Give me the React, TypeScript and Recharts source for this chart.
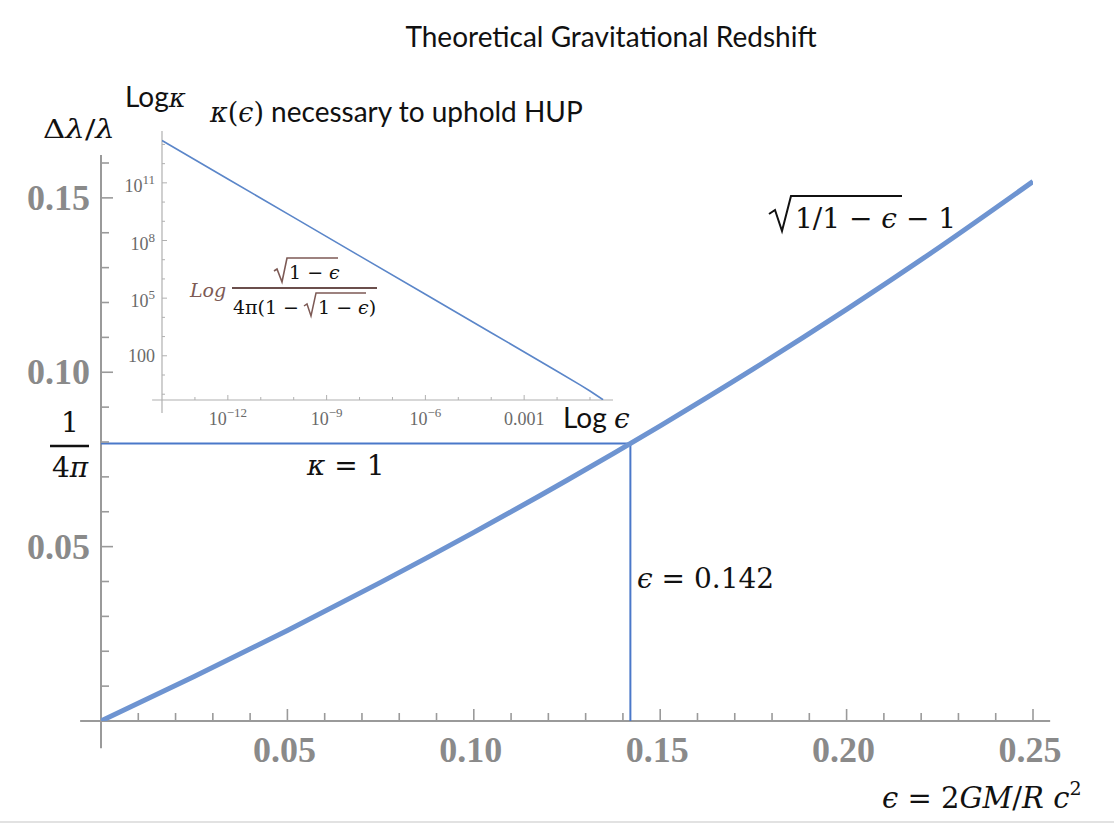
import React from 'react';
import { ComposedChart, LineChart, Line, XAxis, YAxis, ReferenceLine } from 'recharts';

// main curve: sqrt(1/(1-eps)) - 1
const EPSILON = [0, 0.025, 0.05, 0.075, 0.1, 0.125, 0.15, 0.175, 0.2, 0.225, 0.25];
const REDSHIFT = [0, 0.01274, 0.02598, 0.03975, 0.05409, 0.06904, 0.08465, 0.10096, 0.11803, 0.13592, 0.1547];

const MAIN_X_TICKS = [
  0.01, 0.02, 0.03, 0.04, 0.05, 0.06, 0.07, 0.08, 0.09, 0.1, 0.11, 0.12, 0.13,
  0.14, 0.15, 0.16, 0.17, 0.18, 0.19, 0.2, 0.21, 0.22, 0.23, 0.24, 0.25,
];
const MAIN_Y_TICKS = [
  0.01, 0.02, 0.03, 0.04, 0.05, 0.06, 0.07, 0.08, 0.09, 0.1, 0.11, 0.12, 0.13, 0.14, 0.15, 0.16,
];

// kappa = 1 crossing
const KAPPA_ONE_EPS = 0.142;
const KAPPA_ONE_SHIFT = 0.0796; // 1/4pi

// inset: log kappa vs log eps
const INSET_EPS = [1e-14, 1e-12, 1e-10, 1e-8, 1e-6, 1e-4, 1e-2, 0.05, 0.1, 0.25];
const INSET_KAPPA = [1.59e13, 1.59e11, 1.59e9, 1.59e7, 1.59e5, 1591, 15.8, 3.06, 1.47, 0.514];

const INSET_X_TICKS = [1e-13, 1e-12, 1e-11, 1e-10, 1e-9, 1e-8, 1e-7, 1e-6, 1e-5, 1e-4, 1e-3, 1e-2, 1e-1];
const INSET_Y_TICKS = [1, 10, 100, 1e3, 1e4, 1e5, 1e6, 1e7, 1e8, 1e9, 1e10, 1e11, 1e12, 1e13];
const INSET_X_LABELS: Record<number, [string, string]> = {
  [-12]: ['10', '\u221212'],
  [-9]: ['10', '\u22129'],
  [-6]: ['10', '\u22126'],
  [-3]: ['0.001', ''],
};
const INSET_Y_LABELS: Record<number, [string, string]> = {
  2: ['100', ''],
  5: ['10', '5'],
  8: ['10', '8'],
  11: ['10', '11'],
};

const mainData = EPSILON.map((e, i) => ({ eps: e, shift: REDSHIFT[i] }));
const insetData = INSET_EPS.map((e, i) => ({ eps: e, kappa: INSET_KAPPA[i] }));

const AXIS = '#9a9a9a';
const TICK_TEXT = '#8a8a8a';
const MATH = '"DejaVu Serif", serif';
const SANS = 'Lato, "Open Sans", sans-serif';

const isMajor = (v: number) => Math.abs(v / 0.05 - Math.round(v / 0.05)) < 1e-6;

const MainXTick = (props: any) => {
  const { x, y, payload } = props;
  const major = isMajor(payload.value);
  return (
    <g>
      <line x1={x} x2={x} y1={y} y2={y - (major ? 12 : 8)} stroke={AXIS} strokeWidth={1.6} />
      {major && (
        <text x={x - 3} y={y + 41} textAnchor="middle" fontFamily='"Liberation Serif", serif' fontWeight="bold" fontSize={36} fill={TICK_TEXT}>
          {payload.value.toFixed(2)}
        </text>
      )}
    </g>
  );
};

const MainYTick = (props: any) => {
  const { x, y, payload } = props;
  const major = isMajor(payload.value);
  return (
    <g>
      <line x1={x} x2={x + (major ? 12 : 8)} y1={y} y2={y} stroke={AXIS} strokeWidth={1.6} />
      {major && (
        <text x={x - 11} y={y + 12} textAnchor="end" fontFamily='"Liberation Serif", serif' fontWeight="bold" fontSize={36} fill={TICK_TEXT}>
          {payload.value.toFixed(2)}
        </text>
      )}
    </g>
  );
};

const InsetXTick = (props: any) => {
  const { x, y, payload } = props;
  const exp = Math.round(Math.log10(payload.value));
  const label = INSET_X_LABELS[exp];
  return (
    <g>
      <line x1={x} x2={x} y1={y} y2={y - (label ? 5 : 3)} stroke="#b0b0b0" strokeWidth={1} />
      {label && (
        <text x={x} y={y + 25} textAnchor="middle" fontFamily='"Liberation Serif", serif' fontSize={18} fill="#6a6a6a">
          {label[0]}
          {label[1] && (
            <tspan dy={-8} fontSize={13}>
              {label[1]}
            </tspan>
          )}
        </text>
      )}
    </g>
  );
};

const InsetYTick = (props: any) => {
  const { x, y, payload } = props;
  const exp = Math.round(Math.log10(payload.value));
  const label = INSET_Y_LABELS[exp];
  return (
    <g>
      <line x1={x} x2={x + (label ? 5 : 3)} y1={y} y2={y} stroke="#b0b0b0" strokeWidth={1} />
      {label && (
        <text x={x - 7} y={y + (label[1] ? 9 : 6)} textAnchor="end" fontFamily='"Liberation Serif", serif' fontSize={18} fill="#6a6a6a">
          {label[0]}
          {label[1] && (
            <tspan dy={-8} fontSize={13}>
              {label[1]}
            </tspan>
          )}
        </text>
      )}
    </g>
  );
};

function Annotations() {
  return (
    <svg width={1114} height={825} style={{ position: 'absolute', left: 0, top: 0, pointerEvents: 'none' }}>
      <text x={611} y={47} textAnchor="middle" fontFamily={SANS} fontSize={28} fill="#111">
        Theoretical Gravitational Redshift
      </text>

      <text x={43} y={138} fontFamily={MATH} fontSize={26} fill="#111" textLength={72} lengthAdjust="spacingAndGlyphs">
        Δ<tspan fontStyle="italic">λ</tspan>/<tspan fontStyle="italic">λ</tspan>
      </text>

      <text x={125} y={107} fontFamily={SANS} fontSize={28} fill="#111">
        Log<tspan fontFamily={MATH} fontStyle="italic" fontSize={26}>κ</tspan>
      </text>

      <text x={210} y={122} fontFamily={SANS} fontSize={28} fill="#111">
        <tspan fontFamily={MATH} fontStyle="italic" fontSize={27}>κ</tspan>
        <tspan fontFamily={MATH} fontSize={27}>(</tspan>
        <tspan fontFamily={MATH} fontStyle="italic" fontSize={27}>ϵ</tspan>
        <tspan fontFamily={MATH} fontSize={27}>)</tspan> necessary to uphold HUP
      </text>

      {/* 1/4pi */}
      <text x={70} y={432} textAnchor="middle" fontFamily={MATH} fontSize={28} fill="#111">1</text>
      <line x1={50} x2={89} y1={446} y2={446} stroke="#111" strokeWidth={2.5} />
      <text x={70} y={477} textAnchor="middle" fontFamily={MATH} fontSize={28} fill="#111">
        4<tspan fontStyle="italic">π</tspan>
      </text>

      <text x={307} y={475} fontFamily={MATH} fontSize={28} fill="#111">
        <tspan fontStyle="italic">κ</tspan> = 1
      </text>

      <text x={563} y={428} fontFamily={SANS} fontSize={28} fill="#111">
        Log <tspan fontFamily={MATH} fontStyle="italic">ϵ</tspan>
      </text>

      <text x={637} y={588} fontFamily={MATH} fontSize={28} fill="#111">
        <tspan fontStyle="italic">ϵ</tspan> = 0.142
      </text>

      {/* sqrt(1/1-eps) - 1 */}
      <path d="M769,214 L775,210 L782,231 L791,196 L902,196" fill="none" stroke="#111" strokeWidth={2} />
      <text x={795} y={228} fontFamily={MATH} fontSize={28} fill="#111">
        1/1 − <tspan fontStyle="italic">ϵ</tspan>
      </text>
      <text x={906} y={228} fontFamily={MATH} fontSize={28} fill="#111">
        − 1
      </text>

      <text x={882} y={808} fontFamily={MATH} fontSize={29} fill="#111">
        <tspan fontStyle="italic">ϵ</tspan> = 2<tspan fontStyle="italic">GM</tspan>/<tspan fontStyle="italic">R c</tspan>
        <tspan dy={-13} fontSize={19}>2</tspan>
      </text>

      {/* inset formula */}
      <text x={190} y={297} fontFamily={MATH} fontStyle="italic" fontSize={19} fill="#7d5a55">
        Log
      </text>
      <path d="M274,271 L277,269 L282,282 L287,258 L338,258" fill="none" stroke="#7d5a55" strokeWidth={1.6} />
      <text x={289} y={279} fontFamily={MATH} fontSize={19} fill="#111">
        1 − <tspan fontStyle="italic">ϵ</tspan>
      </text>
      <line x1={232} x2={377} y1={288} y2={288} stroke="#6b4f4c" strokeWidth={1.8} />
      <text x={233} y={314} fontFamily={MATH} fontSize={19} fill="#111">
        4π(1 −
      </text>
      <path d="M304,306 L307,304 L311,316 L316,293 L366,293" fill="none" stroke="#7d5a55" strokeWidth={1.5} />
      <text x={318} y={314} fontFamily={MATH} fontSize={19} fill="#111">
        1 − <tspan fontStyle="italic">ϵ</tspan>)
      </text>

      <line x1={0} x2={1114} y1={822} y2={822} stroke="#e2e2e2" strokeWidth={2} />
    </svg>
  );
}

export default function App() {
  return (
    <div style={{ position: 'absolute', left: 0, top: 0, width: 1114, height: 825, background: '#fff', overflow: 'hidden' }}>
      <style>{`.soft-curve path { filter: blur(0.7px); }`}</style>
      <ComposedChart
        width={1114}
        height={825}
        data={mainData}
        margin={{ top: 163, right: 81, left: 0, bottom: 74 }}
        style={{ position: 'absolute', left: 0, top: 0 }}
      >
        <XAxis
          dataKey="eps"
          type="number"
          domain={[0, 0.25]}
          ticks={MAIN_X_TICKS}
          interval={0}
          axisLine={false}
          tickLine={false}
          tickSize={0}
          tickMargin={0}
          height={30}
          tick={<MainXTick />}
          allowDataOverflow
        />
        <YAxis
          type="number"
          domain={[0, 0.16]}
          ticks={MAIN_Y_TICKS}
          interval={0}
          axisLine={false}
          tickLine={false}
          tickSize={0}
          tickMargin={0}
          width={101}
          tick={<MainYTick />}
          allowDataOverflow
        />
        <ReferenceLine
          segment={[{ x: -0.0056, y: 0 }, { x: 0.2546, y: 0 }]}
          stroke={AXIS}
          strokeWidth={2}
          ifOverflow="visible"
        />
        <ReferenceLine
          segment={[{ x: 0, y: -0.0078 }, { x: 0, y: 0.1623 }]}
          stroke={AXIS}
          strokeWidth={2}
          ifOverflow="visible"
        />
        <ReferenceLine
          segment={[{ x: 0, y: KAPPA_ONE_SHIFT }, { x: KAPPA_ONE_EPS, y: KAPPA_ONE_SHIFT }]}
          stroke="#4a78c9"
          strokeWidth={2}
          ifOverflow="visible"
        />
        <ReferenceLine
          segment={[{ x: KAPPA_ONE_EPS, y: 0 }, { x: KAPPA_ONE_EPS, y: KAPPA_ONE_SHIFT }]}
          stroke="#4a78c9"
          strokeWidth={2}
          ifOverflow="visible"
        />
        <Line
          dataKey="shift"
          type="monotone"
          stroke="#6e94d1"
          strokeWidth={5}
          dot={false}
          className="soft-curve"
          isAnimationActive={false}
        />
      </ComposedChart>

      <LineChart
        width={700}
        height={450}
        data={insetData}
        margin={{ top: 131, right: 87, left: 122, bottom: 20 }}
        style={{ position: 'absolute', left: 0, top: 0 }}
      >
        <XAxis
          dataKey="eps"
          type="number"
          scale="log"
          domain={[1e-14, 0.5]}
          ticks={INSET_X_TICKS}
          interval={0}
          axisLine={false}
          tickLine={false}
          tickSize={0}
          tickMargin={0}
          height={30}
          tick={<InsetXTick />}
          allowDataOverflow
        />
        <YAxis
          type="number"
          scale="log"
          domain={[0.5, 5e13]}
          ticks={INSET_Y_TICKS}
          interval={0}
          axisLine={false}
          tickLine={false}
          tickSize={0}
          tickMargin={0}
          width={40}
          tick={<InsetYTick />}
          allowDataOverflow
        />
        <ReferenceLine
          segment={[{ x: 5e-15, y: 0.5 }, { x: 0.5, y: 0.5 }]}
          stroke="#b0b0b0"
          strokeWidth={1.2}
          ifOverflow="visible"
        />
        <ReferenceLine
          segment={[{ x: 1e-14, y: 0.105 }, { x: 1e-14, y: 5e13 }]}
          stroke="#b0b0b0"
          strokeWidth={1.2}
          ifOverflow="visible"
        />
        <Line
          dataKey="kappa"
          type="linear"
          stroke="#5b86c9"
          strokeWidth={1.6}
          dot={false}
          isAnimationActive={false}
        />
      </LineChart>

      <Annotations />
    </div>
  );
}
